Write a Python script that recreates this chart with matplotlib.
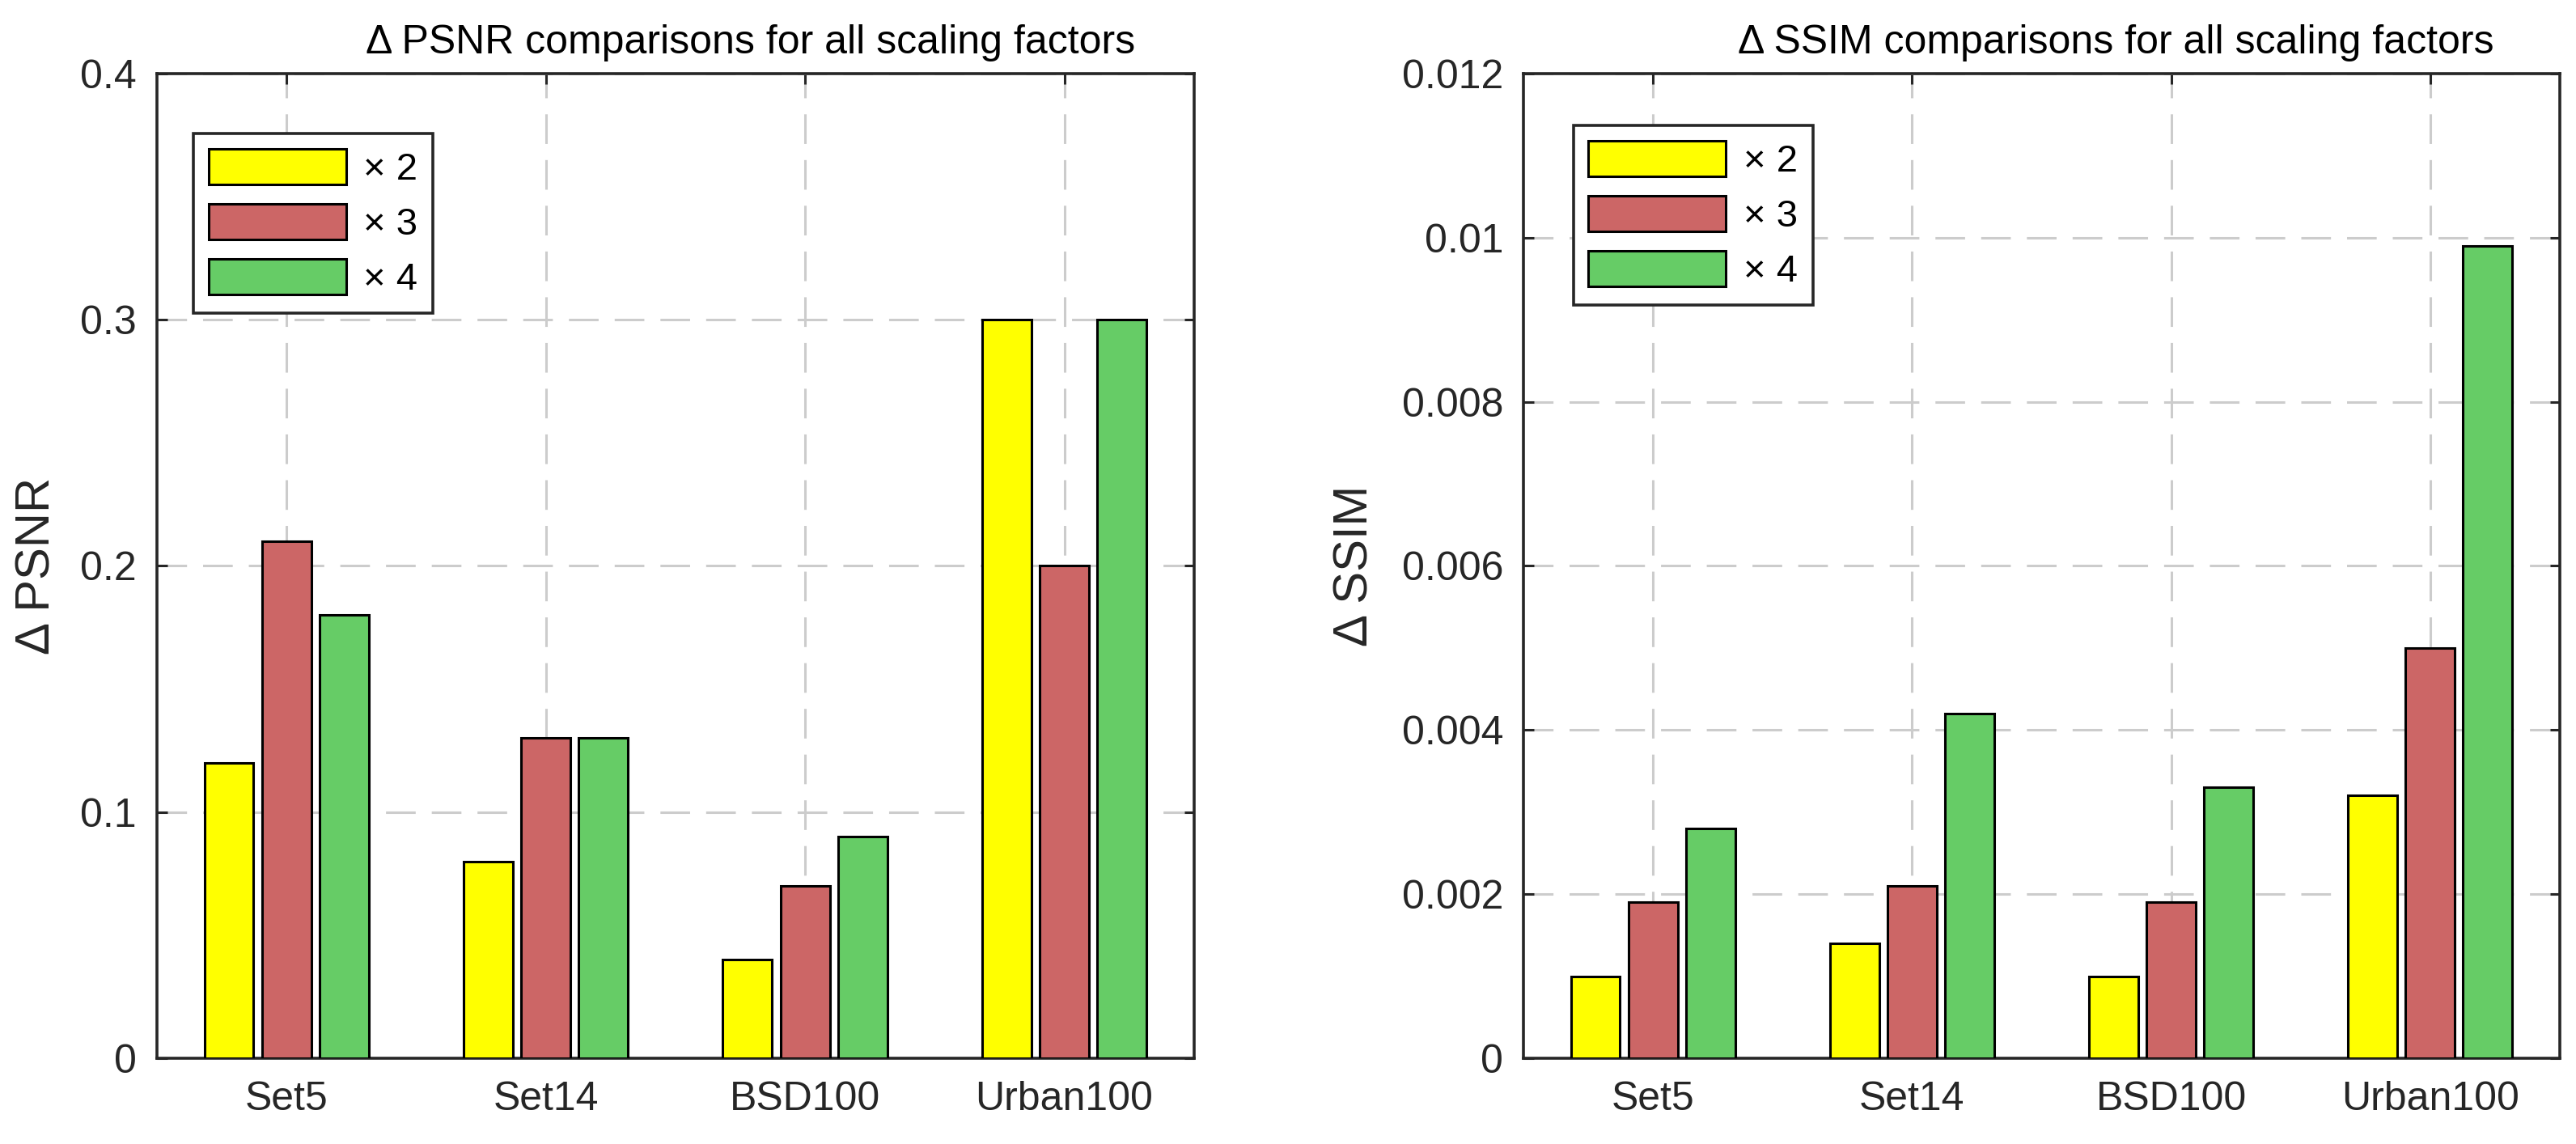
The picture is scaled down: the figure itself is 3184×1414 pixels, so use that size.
import numpy as np
import matplotlib
matplotlib.use("Agg")
import matplotlib.pyplot as plt

plt.rcParams['font.family'] = ['Liberation Sans', 'DejaVu Sans']

datasets = ['Set5', 'Set14', 'BSD100', 'Urban100']
scales = ['× 2', '× 3', '× 4']
colors = ['#FFFF00', '#CC6666', '#66CC66']

psnr_x2 = [0.12, 0.08, 0.04, 0.30]
psnr_x3 = [0.21, 0.13, 0.07, 0.20]
psnr_x4 = [0.18, 0.13, 0.09, 0.30]

ssim_x2 = [0.0010, 0.0014, 0.0010, 0.0032]
ssim_x3 = [0.0019, 0.0021, 0.0019, 0.0050]
ssim_x4 = [0.0028, 0.0042, 0.0033, 0.0099]

psnr_ticks = [0, 0.1, 0.2, 0.3, 0.4]
ssim_ticks = [0, 0.002, 0.004, 0.006, 0.008, 0.01, 0.012]

dark = '#262626'
fig = plt.figure(figsize=(15.92, 7.07), dpi=200)
ax1 = fig.add_axes([0.0609, 0.075, 0.4026, 0.8607])
ax2 = fig.add_axes([0.5914, 0.075, 0.4023, 0.8607])

x = np.arange(1, len(datasets) + 1)
offsets = [-0.222, 0.0, 0.222]
width = 0.19


def draw(ax, series, ticks, title, ylabel, leg_anchor, ylab_x):
    for vals, off, col, lab in zip(series, offsets, colors, scales):
        ax.bar(x + off, vals, width, color=col, edgecolor='black',
               linewidth=1.1, label=lab, zorder=3)
    ax.set_xlim(0.5, 4.5)
    ax.set_ylim(ticks[0], ticks[-1])
    ax.set_xticks(x)
    ax.set_xticklabels(datasets)
    ax.set_yticks(ticks)
    ax.set_yticklabels(['%g' % t for t in ticks])
    ax.grid(True, color='#cccccc', linestyle=(0, (12, 6.5)), linewidth=1.1, zorder=0)
    ax.tick_params(direction='in', length=4.5, width=1.1, color=dark,
                   labelcolor=dark, labelsize=18, top=True, right=True)
    ax.tick_params(axis='y', pad=9)
    ax.tick_params(axis='x', pad=10)
    for s in ax.spines.values():
        s.set_linewidth(1.3)
        s.set_color(dark)
    ax.set_title(title, fontsize=18, pad=9, x=0.572)
    ax.set_ylabel(ylabel, fontsize=21.5, color=dark)
    ax.yaxis.set_label_coords(ylab_x, 0.5)
    leg = ax.legend(loc='upper left', bbox_to_anchor=leg_anchor, fontsize=17,
                    handlelength=3.6, handleheight=1.05, labelspacing=0.42,
                    handletextpad=0.45, borderpad=0.4, borderaxespad=0,
                    fancybox=False, framealpha=1, edgecolor=dark)
    leg.get_frame().set_linewidth(1.3)


draw(ax1, [psnr_x2, psnr_x3, psnr_x4], psnr_ticks,
     'Δ PSNR comparisons for all scaling factors', 'Δ PSNR', (0.035, 0.939), -0.094)
draw(ax2, [ssim_x2, ssim_x3, ssim_x4], ssim_ticks,
     'Δ SSIM comparisons for all scaling factors', 'Δ SSIM', (0.048, 0.947), -0.141)

fig.savefig('out.png', dpi=200, facecolor='white')
